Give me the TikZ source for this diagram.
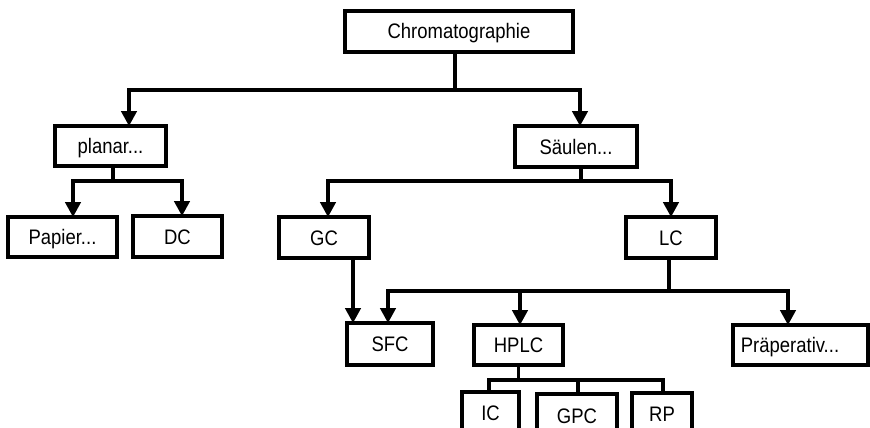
\documentclass[tikz,border=0pt]{standalone}
\usepackage{fontspec}
\setmainfont{Liberation Sans}[FakeStretch=0.88]
\usetikzlibrary{arrows.meta}
\begin{document}
\begin{tikzpicture}[x=1pt,y=-1pt,
  box/.style={draw, line width=3.1pt, minimum width=#1, minimum height=41pt,
    inner sep=0pt, outer sep=0pt, text height=15pt, text depth=0pt,
    font=\fontsize{21}{24}\selectfont},
  conn/.style={line width=3.1pt},
  arr/.style={-{Triangle[length=15pt,width=15.5pt]}}]
\useasboundingbox (0,0) rectangle (870,428);
\clip (0,0) rectangle (870,428);
% nodes
\node[box=228pt] (chrom) at (459,31.5) {Chromatographie};
\node[box=111pt, minimum height=40pt] (planar) at (110.5,146) {planar...};
\node[box=122pt] (saeulen) at (576,146.5) {Säulen...};
\node[box=109pt, minimum height=40pt] (papier) at (62.5,237) {Papier...};
\node[box=89pt] (dc) at (177.5,236.5) {DC};
\node[box=90pt] (gc) at (324,237.5) {GC};
\node[box=90pt] (lc) at (671,237.5) {LC};
\node[box=86pt, minimum height=42pt] (sfc) at (390,344) {SFC};
\node[box=89pt, minimum height=40pt] (hplc) at (518.5,345) {HPLC};
\node[box=135pt, minimum height=40pt] (prae) at (800.5,345) {Präperativ...\hspace*{21pt}};
\node[box=57pt, minimum height=42pt] (ic) at (490.5,413) {IC};
\node[box=80pt, minimum height=44pt] (gpc) at (577,416) {GPC};
\node[box=60pt, minimum height=42pt] (rp) at (662,414) {RP};
% connectors
\draw[conn,arr] ([xshift=-4pt]chrom.south) -- ++(0,38) -| ([xshift=18.5pt]planar.north);
\draw[conn,arr] ([xshift=-4pt]chrom.south) -- ++(0,38) -| ([xshift=4pt]saeulen.north);
\draw[conn,arr] ([xshift=2.5pt]planar.south) -- ++(0,15) -| ([xshift=10.5pt]papier.north);
\draw[conn,arr] ([xshift=2.5pt]planar.south) -- ++(0,15) -| ([xshift=4.5pt]dc.north);
\draw[conn,arr] ([xshift=5pt]saeulen.south) -- ++(0,14) -| ([xshift=4pt]gc.north);
\draw[conn,arr] ([xshift=5pt]saeulen.south) -- ++(0,14) -| (lc.north);
\draw[conn,arr] ([xshift=29pt]gc.south) -- ([xshift=-37pt]sfc.north);
\draw[conn,arr] ([xshift=-2pt]lc.south) -- ++(0,33) -| ([xshift=-2pt]sfc.north);
\draw[conn,arr] ([xshift=-2pt]lc.south) -- ++(0,33) -| ([xshift=1.5pt]hplc.north);
\draw[conn,arr] ([xshift=-2pt]lc.south) -- ++(0,33) -| ([xshift=-12.5pt]prae.north);
\draw[conn] (hplc.south) -- ++(0,15) -| ([xshift=-1.5pt]ic.north);
\draw[conn] (hplc.south) -- ++(0,15) -| ([xshift=1pt]gpc.north);
\draw[conn] (hplc.south) -- ++(0,15) -| ([xshift=1pt]rp.north);
\end{tikzpicture}
\end{document}
